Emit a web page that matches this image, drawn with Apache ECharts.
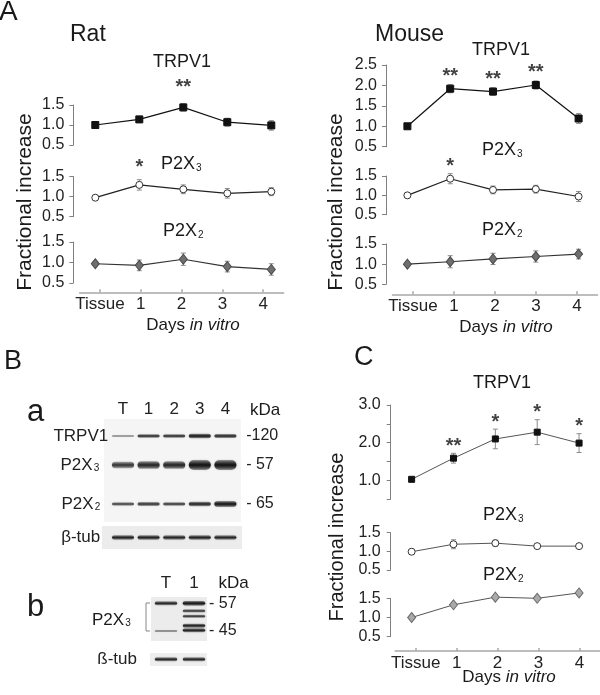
<!DOCTYPE html>
<html><head><meta charset="utf-8">
<script src="https://cdn.jsdelivr.net/npm/echarts@6/dist/echarts.min.js"></script>
<style>html,body{margin:0;padding:0;background:#fff}#c{width:600px;height:695px}</style>
</head><body><div id="c"></div>
<script>
// ---------- data ----------
const days = ['Tissue', '1', '2', '3', '4'];

const ratTRPV1 = [1.00, 1.14, 1.44, 1.07, 0.99];
const ratTRPV1Err = [0, 0.06, 0.09, 0.10, 0.12];
const ratTRPV1Sig = ['', '', '**', '', ''];
const ratP2X3 = [0.97, 1.29, 1.18, 1.08, 1.12];
const ratP2X3Err = [0, 0.13, 0.11, 0.12, 0.10];
const ratP2X3Sig = ['', '*', '', '', ''];
const ratP2X2 = [0.97, 0.93, 1.08, 0.90, 0.83];
const ratP2X2Err = [0.04, 0.13, 0.15, 0.13, 0.14];

const mouseTRPV1 = [1.00, 1.92, 1.85, 2.01, 1.19];
const mouseTRPV1Err = [0, 0.10, 0.09, 0.10, 0.12];
const mouseTRPV1Sig = ['', '**', '**', '**', ''];
const mouseP2X3 = [1.00, 1.43, 1.14, 1.16, 0.97];
const mouseP2X3Err = [0, 0.13, 0.10, 0.10, 0.13];
const mouseP2X3Sig = ['', '*', '', '', ''];
const mouseP2X2 = [1.00, 1.06, 1.13, 1.19, 1.25];
const mouseP2X2Err = [0, 0.15, 0.14, 0.14, 0.12];

const cultTRPV1 = [1.03, 1.59, 2.10, 2.28, 1.99];
const cultTRPV1Err = [0, 0.13, 0.26, 0.33, 0.25];
const cultTRPV1Sig = ['', '**', '*', '*', '*'];
const cultP2X3 = [0.99, 1.19, 1.22, 1.14, 1.14];
const cultP2X3Err = [0.03, 0.12, 0.08, 0.03, 0.03];
const cultP2X2 = [1.00, 1.33, 1.53, 1.50, 1.64];
const cultP2X2Err = [0.03, 0.03, 0.04, 0.04, 0.04];

// western blot (band intensities 0..1)
const blotLanes = ['T', '1', '2', '3', '4'];
const blotRows = ['TRPV1', 'P2X3', 'P2X2', 'β-tub'];
const blotKDa = ['-120', '- 57', '- 65', ''];
const bandTRPV1 = [0.50, 0.85, 0.85, 0.95, 0.88];
const bandP2X3 = [0.80, 0.88, 0.88, 1.00, 1.00];
const bandP2X2 = [0.75, 0.80, 0.78, 0.88, 0.98];
const bandTub = [0.88, 0.88, 0.86, 0.88, 0.86];
const blotBLanes = ['T', '1'];
const blotBRows = ['P2X3', 'ß-tub'];
const blotBKDa = [45, 57];
// [lane, apparent kDa, intensity]
const blotBBands = [[0, 57, 0.88], [0, 45, 0.55], [1, 57, 0.97], [1, 53.7, 0.8], [1, 51.4, 0.8], [1, 47.3, 0.9], [1, 45.3, 0.9]];
const blotBTub = [0.88, 0.88];

// ---------- builders ----------
const FF = "'Liberation Sans', Arial, Helvetica, sans-serif";
const grids = [], xAxes = [], yAxes = [], series = [], graphics = [];

function addGrid(g, xa, ya) {
  grids.push(g);
  const gi = grids.length - 1;
  xa.gridIndex = gi; ya.gridIndex = gi;
  xAxes.push(xa); yAxes.push(ya);
  return { gi, xi: xAxes.length - 1, yi: yAxes.length - 1 };
}

const SUBRICH = {
  m: { fontSize: 17, lineHeight: 17, color: '#222', fontFamily: FF },
  s: { fontSize: 10, lineHeight: 10, color: '#222', fontFamily: FF, verticalAlign: 'bottom', padding: [14, 0, 0, 1] }
};
function subFmt(name) {
  const m = /^(P2X)(\d)$/.exec(name);
  return m ? '{m|' + m[1] + '}{s|' + m[2] + '}' : '{m|' + name + '}';
}

function errRender(color) {
  return function (params, api) {
    const i = api.value(0);
    const top = api.coord([i, api.value(2)]);
    const bot = api.coord([i, api.value(1)]);
    const cw = 2.5;
    const st = { stroke: color, lineWidth: 1 };
    return {
      type: 'group', children: [
        { type: 'line', shape: { x1: top[0], y1: top[1], x2: bot[0], y2: bot[1] }, style: st },
        { type: 'line', shape: { x1: top[0] - cw, y1: top[1], x2: top[0] + cw, y2: top[1] }, style: st },
        { type: 'line', shape: { x1: bot[0] - cw, y1: bot[1], x2: bot[0] + cw, y2: bot[1] }, style: st }
      ]
    };
  };
}

const STYLES = {
  trpv1: { symbol: 'rect', size: 7, fill: '#111', border: '#111', line: '#111' },
  p2x3: { symbol: 'circle', size: 7, fill: '#fff', border: '#333', line: '#222' },
  p2x2: { symbol: 'diamond', size: [8, 10], fill: '#6f6f6f', border: '#4a4a4a', line: '#333' },
  p2x2c: { symbol: 'diamond', size: [8, 10], fill: '#a9a9a9', border: '#6a6a6a', line: '#444' }
};

function subplot(c) {
  const ax = addGrid({ left: c.left, width: c.width, top: c.top, height: c.height },
    { type: 'category', data: days, boundaryGap: true, show: false },
    {
      type: 'value', min: c.min, max: c.max, interval: 0.5,
      axisLine: { show: true, lineStyle: { color: '#808080', width: 1 } },
      axisTick: { show: true, length: 4, lineStyle: { color: '#808080', width: 1 } },
      splitLine: { show: false },
      axisLabel: {
        fontSize: 16, color: '#222', margin: c.labelMargin || 9, fontFamily: FF,
        formatter: v => c.intOnly ? (Math.abs(v - Math.round(v)) < 1e-6 ? v.toFixed(1) : '') : v.toFixed(1)
      }
    });
  const st = c.style;
  series.push({
    type: 'custom', xAxisIndex: ax.xi, yAxisIndex: ax.yi, z: 2, silent: true, clip: false,
    data: c.values.map((v, i) => [i, v - c.err[i], v + c.err[i]]).filter((d, i) => c.err[i] > 0),
    encode: { x: 0, y: [1, 2] },
    renderItem: errRender('#8c8c8c')
  });
  series.push({
    type: 'line', xAxisIndex: ax.xi, yAxisIndex: ax.yi, z: 3, data: c.values, clip: false,
    symbol: st.symbol, symbolSize: c.symbolSize || st.size, showAllSymbol: true, silent: true,
    itemStyle: { color: st.fill, borderColor: st.border, borderWidth: 1 },
    lineStyle: { color: c.lineColor || st.line, width: c.lineWidth || 1.2 }
  });
  if (c.sig) {
    series.push({
      type: 'scatter', xAxisIndex: ax.xi, yAxisIndex: ax.yi, z: 4, symbolSize: 0, silent: true, clip: false,
      data: c.sig.map((s, i) => s ? { value: [i, c.values[i] + c.err[i]], label: { formatter: s } } : null).filter(Boolean),
      label: { show: true, position: 'top', distance: c.starDist || 0, fontSize: 20, fontWeight: 'bold', color: '#111', fontFamily: FF }
    });
  }
}

function bottomAxis(left, width, lineY) {
  addGrid({ left: left, width: width, top: lineY - 10, height: 10 },
    {
      type: 'category', data: days, boundaryGap: true, position: 'bottom',
      axisLine: { show: true, lineStyle: { color: '#a8a8a8', width: 1.5 } },
      axisTick: { show: true, inside: true, alignWithLabel: true, interval: 0, length: 3, lineStyle: { color: '#a8a8a8', width: 1.5 } },
      axisLabel: { interval: 0, fontSize: 17, color: '#222', margin: 4, fontFamily: FF }
    },
    { type: 'value', show: false, min: 0, max: 1 });
}

function bandRender(base, wf) {
  return function (params, api) {
    const c = api.coord([api.value(0), api.value(1)]);
    const I = api.value(2);
    const w = api.size([1, 0])[0] * wf;
    const t = Math.max(2, base * I * I);
    const col = a => 'rgba(18,18,18,' + a.toFixed(3) + ')';
    return {
      type: 'rect', shape: { x: c[0] - w / 2, y: c[1] - t / 2, width: w, height: t, r: t / 2 },
      style: {
        fill: new echarts.graphic.LinearGradient(0, 0, 0, 1, [
          { offset: 0, color: col(I * 0.35) }, { offset: 0.5, color: col(I) }, { offset: 1, color: col(I * 0.35) }]),
        shadowBlur: 2, shadowColor: col(I * 0.5)
      }
    };
  };
}

function blotRow(c) {
  const ax = addGrid({ left: c.left, width: c.width, top: c.center - 10, height: 20 },
    {
      type: 'category', data: c.lanes, boundaryGap: true, position: 'top',
      axisLine: { show: false }, axisTick: { show: false },
      axisLabel: { show: !!c.showLanes, interval: 0, fontSize: 17, color: '#222', margin: c.laneMargin || 8, fontFamily: FF }
    },
    {
      type: 'category', data: [c.label], axisLine: { show: false }, axisTick: { show: false },
      axisLabel: { margin: c.labelMargin, formatter: subFmt, rich: SUBRICH }
    });
  if (c.kda) {
    yAxes.push({
      gridIndex: ax.gi, type: 'category', data: [c.kda], position: 'right',
      axisLine: { show: false }, axisTick: { show: false },
      axisLabel: { fontSize: 16, color: '#222', margin: c.kdaMargin || 8, fontFamily: FF }
    });
  }
  series.push({
    type: 'custom', xAxisIndex: ax.xi, yAxisIndex: ax.yi, silent: true,
    data: c.intens.map((v, i) => [i, 0, v]), encode: { x: 0, y: 1 },
    renderItem: bandRender(c.base, c.wf || 0.86)
  });
}

// ---------- Panel A: rat ----------
const RAT = { left: 73.3, width: 220 };
subplot(Object.assign({ top: 105, height: 40, min: 0.5, max: 1.5, values: ratTRPV1, err: ratTRPV1Err, sig: ratTRPV1Sig, style: STYLES.trpv1, starDist: 6 }, RAT));
subplot(Object.assign({ top: 176.5, height: 40, min: 0.5, max: 1.5, values: ratP2X3, err: ratP2X3Err, sig: ratP2X3Sig, style: STYLES.p2x3, starDist: 2 }, RAT));
subplot(Object.assign({ top: 242, height: 41, min: 0.5, max: 1.5, values: ratP2X2, err: ratP2X2Err, style: STYLES.p2x2 }, RAT));
bottomAxis(79.6, 204, 292.3);

// ---------- Panel A: mouse ----------
const MOUSE = { left: 386, width: 220 };
subplot(Object.assign({ top: 65, height: 81.7, min: 0.5, max: 2.5, values: mouseTRPV1, err: mouseTRPV1Err, sig: mouseTRPV1Sig, style: STYLES.trpv1, starDist: -2 }, MOUSE));
subplot(Object.assign({ top: 176, height: 38.7, min: 0.5, max: 1.5, values: mouseP2X3, err: mouseP2X3Err, sig: mouseP2X3Sig, style: STYLES.p2x3, starDist: -3 }, MOUSE));
subplot(Object.assign({ top: 244, height: 40.3, min: 0.5, max: 1.5, values: mouseP2X2, err: mouseP2X2Err, style: STYLES.p2x2 }, MOUSE));
bottomAxis(392.5, 205, 294.3);

// ---------- Panel C ----------
const CULT = { left: 390.7, width: 223, labelMargin: 10, lineColor: '#555', lineWidth: 1 };
subplot(Object.assign({ top: 405, height: 94.3, min: 0.5, max: 3.0, intOnly: true, values: cultTRPV1, err: cultTRPV1Err, sig: cultTRPV1Sig, style: STYLES.trpv1, symbolSize: 6, starDist: -3 }, CULT));
subplot(Object.assign({ top: 532.7, height: 37.3, min: 0.5, max: 1.5, values: cultP2X3, err: cultP2X3Err, style: STYLES.p2x3 }, CULT));
subplot(Object.assign({ top: 598.3, height: 38.4, min: 0.5, max: 1.5, values: cultP2X2, err: cultP2X2Err, style: STYLES.p2x2c }, CULT));
bottomAxis(395.2, 205.5, 651);

// ---------- Panel B: blots ----------
const BA = { left: 110.2, width: 128, lanes: blotLanes };
blotRow(Object.assign({ center: 436, label: blotRows[0], kda: blotKDa[0], intens: bandTRPV1, base: 5, showLanes: true, laneMargin: 8.5, labelMargin: 2 }, BA));
blotRow(Object.assign({ center: 465, label: blotRows[1], kda: blotKDa[1], intens: bandP2X3, base: 10, labelMargin: 11 }, BA));
blotRow(Object.assign({ center: 504, label: blotRows[2], kda: blotKDa[2], intens: bandP2X2, base: 6, labelMargin: 10 }, BA));
blotRow(Object.assign({ center: 537.5, label: blotRows[3], kda: blotKDa[3], intens: bandTub, base: 6, labelMargin: 10 }, BA));

// blot b, P2X3 bands on an apparent-kDa scale
(function () {
  const ax = addGrid({ left: 152, width: 56, top: 603.3, height: 27.7 },
    {
      type: 'category', data: blotBLanes, boundaryGap: true, position: 'top',
      axisLine: { show: false }, axisTick: { show: false },
      axisLabel: { interval: 0, fontSize: 17, color: '#222', margin: 11.5, fontFamily: FF }
    },
    {
      type: 'value', min: 45, max: 57, position: 'right',
      axisLine: { show: false }, axisTick: { show: false }, splitLine: { show: false },
      axisLabel: { customValues: blotBKDa, formatter: v => '- ' + v, fontSize: 16, color: '#222', margin: 1, fontFamily: FF }
    });
  series.push({
    type: 'custom', xAxisIndex: ax.xi, yAxisIndex: ax.yi, silent: true,
    data: blotBBands, encode: { x: 0, y: 1 }, renderItem: bandRender(5, 0.8)
  });
})();
blotRow({ left: 152, width: 56, lanes: blotBLanes, center: 659.3, label: blotBRows[1], intens: blotBTub, base: 5, labelMargin: 15, wf: 0.8 });

// ---------- texts ----------
function T(x, y, text, size, align, extra) {
  return {
    type: 'text', x: x, y: y, z: 10,
    style: Object.assign({ text: text, fontSize: size, fontFamily: FF, fill: '#1a1a1a', textAlign: align || 'center', textVerticalAlign: 'middle' }, extra || {})
  };
}
const RICH18 = {
  m: { fontSize: 18, lineHeight: 18, fill: '#1a1a1a', fontFamily: FF },
  s: { fontSize: 10, lineHeight: 10, fill: '#1a1a1a', fontFamily: FF, verticalAlign: 'bottom', padding: [15, 0, 0, 1] }
};
const DAYS = { n: { fontSize: 17, fill: '#1a1a1a', fontFamily: FF }, i: { fontSize: 17, fontStyle: 'italic', fill: '#1a1a1a', fontFamily: FF } };
function rot(x, y, text, size) {
  return { type: 'text', x: x, y: y, rotation: Math.PI / 2, z: 10, style: { text: text, fontSize: size, fontFamily: FF, fill: '#1a1a1a', textAlign: 'center', textVerticalAlign: 'middle' } };
}

// gel backgrounds
graphics.push({ type: 'rect', z: -10, shape: { x: 104, y: 419, width: 137, height: 103 }, style: { fill: '#f5f5f5' } });
graphics.push({ type: 'rect', z: -10, shape: { x: 102, y: 526, width: 140, height: 23 }, style: { fill: '#ececec' } });
graphics.push({ type: 'rect', z: -10, shape: { x: 151, y: 597, width: 56, height: 44 }, style: { fill: '#ececec' } });
graphics.push({ type: 'rect', z: -10, shape: { x: 150, y: 653, width: 57, height: 13 }, style: { fill: '#eeeeee' } });

graphics.push(T(-1, 12, 'A', 28, 'left'));
graphics.push(T(70, 35, 'Rat', 23, 'left'));
graphics.push(T(375, 35, 'Mouse', 23, 'left'));
graphics.push(T(182, 62, 'TRPV1', 18));
graphics.push(T(161, 164, '{m|P2X}{s|3}', 18, 'left', { rich: RICH18 }));
graphics.push(T(163, 231, '{m|P2X}{s|2}', 18, 'left', { rich: RICH18 }));
graphics.push(T(501, 50, 'TRPV1', 18));
graphics.push(T(482, 150, '{m|P2X}{s|3}', 18, 'left', { rich: RICH18 }));
graphics.push(T(482, 230, '{m|P2X}{s|2}', 18, 'left', { rich: RICH18 }));
graphics.push(rot(25, 202, 'Fractional increase', 21));
graphics.push(rot(336, 202, 'Fractional increase', 21));
graphics.push(T(193, 325, '{n|Days }{i|in vitro}', 17, 'center', { rich: DAYS }));
graphics.push(T(506, 327, '{n|Days }{i|in vitro}', 17, 'center', { rich: DAYS }));

graphics.push(T(354, 358, 'C', 27, 'left'));
graphics.push(T(502, 383, 'TRPV1', 18));
graphics.push(T(483, 515, '{m|P2X}{s|3}', 18, 'left', { rich: RICH18 }));
graphics.push(T(483, 575, '{m|P2X}{s|2}', 18, 'left', { rich: RICH18 }));
graphics.push(rot(337, 537, 'Fractional increase', 20));
graphics.push(T(509, 677, '{n|Days }{i|in vitro}', 17, 'center', { rich: DAYS }));

graphics.push(T(4, 362, 'B', 27, 'left'));
graphics.push(T(27, 412, 'a', 31, 'left'));
graphics.push(T(27, 607, 'b', 31, 'left'));
graphics.push(T(265, 410, 'kDa', 17));
graphics.push(T(233.5, 583, 'kDa', 17));
graphics.push(T(92, 620, '{m|P2X}{s|3}', 17, 'left', { rich: SUBRICH }));
graphics.push({ type: 'polyline', z: 10, shape: { points: [[150, 603], [146, 603], [146, 631], [150, 631]] }, style: { stroke: '#888', lineWidth: 1, fill: null } });

const chart = echarts.init(document.getElementById('c'), null, { renderer: 'canvas' });
chart.setOption({
  animation: false,
  backgroundColor: '#fff',
  textStyle: { fontFamily: FF },
  grid: grids,
  xAxis: xAxes,
  yAxis: yAxes,
  series: series,
  graphic: { elements: graphics }
});
</script>
</body></html>
